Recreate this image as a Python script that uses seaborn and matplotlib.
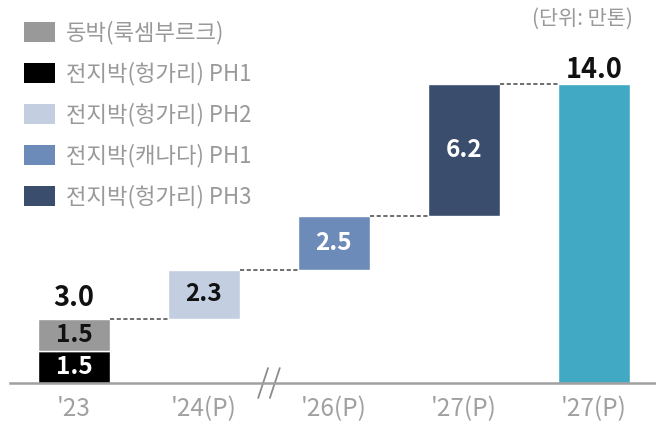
import matplotlib
matplotlib.use("Agg")
import matplotlib.pyplot as plt
from matplotlib.patches import Patch
import seaborn as sns

# x slots shown on the axis
categories = ["'23", "'24(P)", "'26(P)", "'27(P)", "'27(P)"]

# bar segments (waterfall): slot, value, bottom
seg_slot = [0, 0, 1, 2, 3, 4]
seg_value = [1.5, 1.5, 2.3, 2.5, 6.2, 14.0]
seg_start = [0.0, 1.5, 3.0, 5.3, 7.8, 0.0]
seg_name = ["전지박(헝가리) PH1", "동박(룩셈부르크)", "전지박(헝가리) PH2",
            "전지박(캐나다) PH1", "전지박(헝가리) PH3", "합계"]
seg_color = ["#000000", "#999999", "#c3cee1", "#6d8bb9", "#3a4d6d", "#41a9c3"]
seg_label_color = ["white", "#111111", "#111111", "white", "white", None]

# totals written above bars
total_slot = [0, 4]
total_value = [3.0, 14.0]
total_offset = [13, 6]  # px gap above bar

legend_order = [1, 0, 2, 3, 4]
unit_text = "(단위: 만톤)"

BAR_W = 0.55
GRAY = "#a0a0a0"

sns.set_theme(style="white")
plt.rcParams["font.family"] = ["Noto Sans CJK KR", "DejaVu Sans"]

fig = plt.figure(figsize=(6.56, 4.26), dpi=100)
ax = fig.add_axes([10 / 656, 43 / 426, 646 / 656, 383 / 426])

slots = [f"s{i}" for i in range(len(categories))]
for i in range(len(seg_value)):
    sns.barplot(x=[slots[seg_slot[i]]], y=[seg_value[i]], order=slots,
                bottom=seg_start[i], color=seg_color[i], saturation=1,
                width=BAR_W, errorbar=None, ax=ax)
    if seg_label_color[i] is not None:
        ax.text(seg_slot[i], seg_start[i] + seg_value[i] / 2, f"{seg_value[i]:.1f}",
                ha="center", va="center", fontsize=17.5, fontweight="bold",
                color=seg_label_color[i])

# totals
for s, v, off in zip(total_slot, total_value, total_offset):
    ax.annotate(f"{v:.1f}", (s, v), xytext=(0, off * 0.72), textcoords="offset points",
                ha="center", va="baseline", fontsize=19.5, fontweight="bold", color="#111111")

# dashed connectors between consecutive slots
tops = [max(seg_start[i] + seg_value[i] for i in range(len(seg_value)) if seg_slot[i] == s)
        for s in range(len(categories))]
for s in range(len(categories) - 1):
    ax.plot([s + BAR_W / 2, s + 1 - BAR_W / 2], [tops[s], tops[s]],
            ls=(0, (2.5, 1.5)), color="#555555", lw=1.2)

ax.set_xlim(-0.492, 4.477)
ax.set_ylim(0, 17.94)
ax.set_xticks(range(len(categories)))
ax.set_xticklabels(categories, fontsize=17.5, color=GRAY)
ax.set_xlabel("")
ax.set_ylabel("")
ax.set_yticks([])
ax.tick_params(axis="x", length=0, pad=9.5)
for side in ["top", "right", "left"]:
    ax.spines[side].set_visible(False)
ax.spines["bottom"].set_color(GRAY)
ax.spines["bottom"].set_linewidth(1.8)

# axis break mark between '24 and '26
brk = 1.5
for dx in (-0.045, 0.045):
    ax.plot([brk + dx - 0.038, brk + dx + 0.038], [-0.7, 0.7], color="#8c8c8c",
            lw=1.3, clip_on=False)

# legend
handles = [Patch(facecolor=seg_color[i], edgecolor="none") for i in legend_order]
labels = [seg_name[i] for i in legend_order]
fig.legend(handles, labels, loc="upper left", bbox_to_anchor=(24 / 656, 1 - 21 / 426),
           frameon=False, fontsize=16, labelcolor="#999999", handlelength=1.4,
           handleheight=1.0, handletextpad=0.5, labelspacing=0.78, borderpad=0,
           borderaxespad=0)

fig.text(633 / 656, 1 - 19 / 426, unit_text, ha="right", va="center", fontsize=15,
         color="#999999")

fig.savefig("out.png", dpi=100)
